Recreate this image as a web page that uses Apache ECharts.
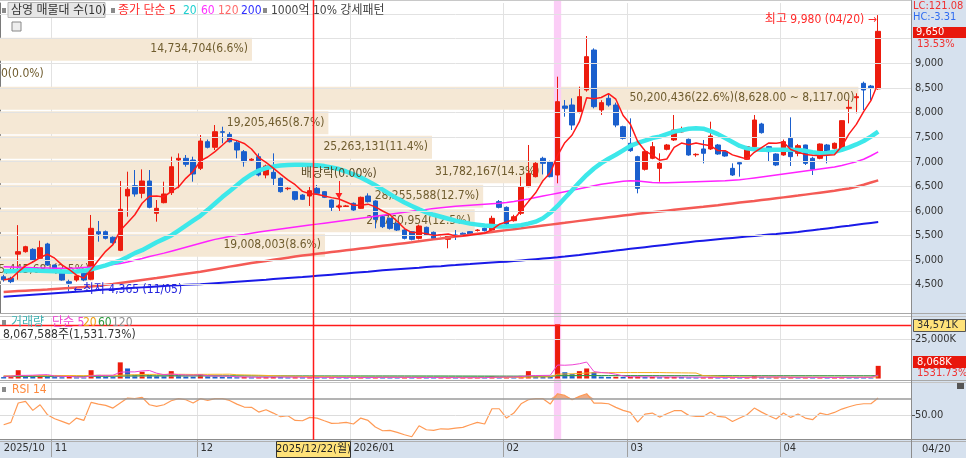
<!DOCTYPE html>
<html><head><meta charset="utf-8">
<script src="https://cdn.jsdelivr.net/npm/echarts@6/dist/echarts.min.js"></script>
<style>html,body{margin:0;padding:0;background:#fff;overflow:hidden}#c{width:966px;height:458px}</style>
</head><body><div id="c"></div>
<script>
// ---------- DATA ----------
const tradingDays = [
 ['2025/10',[23,24,27,28,29,30,31]],
 ['2025/11',[3,4,5,6,7,10,11,12,13,14,17,18,19,20,21,24,25,26,27,28]],
 ['2025/12',[1,2,3,4,5,8,9,10,11,12,15,16,17,18,19,22,23,24,26,29,30]],
 ['2026/01',[2,5,6,7,8,9,12,13,14,15,16,19,20,21,22,23,26,27,28,29,30]],
 ['2026/02',[2,3,4,5,6,9,10,11,12,13,19,20,23,24,25,26,27]],
 ['2026/03',[3,4,5,6,9,10,11,12,13,16,17,18,19,20,23,24,25,26,27,30,31]],
 ['2026/04',[1,2,3,6,7,8,9,10,13,14,15,16,17,20]]
];
const monthLabels = ['2025/10','11','12','2026/01','02','03','04'];
const priceTicks = [4500,5000,5500,6000,6500,7000,7500,8000,8500,9000];
const priceGridLines = [4500,5000,5500,6000,6500,7000,7500,8000,8500,9000,9500,10000];
const volTicks = [25000];
const rsiTicks = [50];

const opens = [4660,4629,5120,5170,5217,5035,5326,4899,4763,4560,
 4594,4730,4609,5576,5576,5462,5197,6302,6512,6357,
 6607,5950,6166,6370,7034,7068,7034,6865,7406,7292,
 7609,7555,7386,7203,7030,7101,6729,6783,6661,6450,
 6390,6322,6302,6458,6390,6220,6080,6090,6153,6051,
 6302,6200,5882,5848,5746,5610,5576,5441,5665,5563,
 5500,5421,5510,5545,5577,5600,5645,5610,6187,6071,
 5800,5950,6492,6695,7068,7000,6729,8132,8152,8017,
 8457,9270,8051,8288,8152,7711,7373,7102,6844,7068,
 6864,7251,7441,7604,7454,7140,7258,7258,7339,7204,
 6864,6980,7048,7305,7766,7305,7156,7136,7475,7170,
 7339,7068,7068,7339,7271,7238,8085,8300,8593,8538,
 8480];
const highs = [4700,4660,5710,5290,5240,5393,5350,4910,4780,4600,
 4700,4750,5916,5794,5600,5480,6607,6796,6830,6843,
 6830,6220,6593,7101,7168,7135,7101,7542,7450,7745,
 7711,7600,7440,7237,7070,7169,6940,7169,6680,6480,
 6400,6340,6492,6526,6400,6230,6130,6120,6170,6290,
 6356,6215,5900,5860,5760,5625,5590,5720,5680,5580,
 5530,5500,5610,5560,5590,5630,5660,5900,6220,6090,
 5920,6695,7339,6990,7100,7020,8728,8254,8288,8525,
 9555,9304,8250,8390,8200,7730,7881,7120,7250,7400,
 7170,7360,7949,7712,7470,7170,7441,7813,7360,7220,
 6966,6990,7320,7949,7790,7320,7170,7450,7901,7360,
 7345,7100,7370,7360,7390,7840,8254,8390,8627,8560,
 9980];
const lows = [4560,4530,4600,5150,4960,5020,4880,4750,4580,4365,
 4560,4570,4590,5373,5420,5330,5180,5881,6288,6255,
 6052,5780,6153,6322,6459,6898,6593,6830,7270,7237,
 7373,7390,7068,6898,7010,6700,6661,6525,6370,6420,
 6210,6220,6099,6322,6260,5983,6050,6080,6000,6040,
 6170,5644,5650,5620,5590,5420,5400,5420,5490,5420,
 5480,5238,5407,5500,5490,5580,5580,5600,6050,5712,
 5780,5915,6480,6680,6740,6680,6560,7915,7644,7983,
 8423,8084,7950,8118,7700,7450,7200,6356,6820,7050,
 6593,7230,7420,7590,7120,7100,6966,7238,7140,7100,
 6709,6695,7040,7290,7570,7000,6910,7120,6912,7110,
 6932,6729,7050,6966,7250,7210,7779,7983,8051,8254,
 8460];
const closes = [4600,4560,5170,5271,5001,5251,4899,4763,4594,4527,
 4676,4594,5645,5530,5442,5352,6032,6438,6343,6607,
 6072,6052,6343,6898,7068,6946,6749,7420,7292,7609,
 7597,7406,7237,6999,7050,6729,6912,6661,6390,6460,
 6234,6234,6410,6356,6275,6071,6100,6100,6017,6275,
 6187,5827,5678,5644,5610,5441,5421,5692,5509,5441,
 5510,5489,5500,5520,5509,5610,5597,5848,6071,5733,
 5880,6492,6763,6966,6966,6695,8220,8085,7745,8322,
 9135,8118,8200,8152,7745,7474,7224,6458,7204,7305,
 6966,7339,7644,7638,7136,7150,7170,7522,7156,7115,
 6729,6953,7305,7847,7590,7203,6932,7407,7102,7325,
 6966,6844,7359,7156,7373,7834,8105,8321,8457,8500,
 9650];
const ma5 = [4600,4620,4760,4880,4960,5051,5118,5037,4902,4807,
 4692,4631,4807,4994,5177,5313,5600,5759,5921,6154,
 6298,6302,6283,6394,6487,6661,6801,7016,7095,7203,
 7333,7465,7428,7370,7258,7084,6985,6870,6748,6630,
 6531,6396,6346,6339,6302,6269,6242,6180,6113,6113,
 6136,6081,5997,5922,5789,5640,5559,5562,5535,5501,
 5515,5528,5490,5492,5506,5526,5547,5617,5727,5772,
 5826,6005,6188,6367,6613,6776,7122,7386,7542,7813,
 8301,8281,8304,8385,8270,7938,7759,7411,7221,7133,
 7031,7054,7292,7378,7345,7381,7348,7323,7227,7223,
 7138,7095,7052,7190,7285,7380,7375,7396,7247,7194,
 7146,7129,7119,7130,7140,7313,7565,7758,8018,8240,
 8603];
const ma20 = [4770,
 4770,4780,4790,4790,4780,4775,4770,4765,4760,4765,
 4780,4810,4850,4890,4940,4990,5060,5140,5200,5280,
 5360,5430,5500,5600,5700,5800,5900,6020,6150,6280,
 6400,6520,6640,6740,6820,6870,6900,6920,6930,6935,
 6935,6932,6925,6910,6880,6850,6800,6740,6680,6600,
 6520,6430,6340,6250,6170,6100,6030,5970,5920,5880,
 5840,5800,5770,5740,5720,5700,5690,5680,5680,5690,
 5710,5740,5780,5850,5960,6100,6260,6420,6580,6730,
 6860,6970,7060,7140,7230,7320,7380,7430,7480,7510,
 7560,7610,7640,7670,7680,7670,7620,7560,7480,7400,
 7320,7270,7250,7240,7240,7240,7240,7240,7235,7220,
 7190,7170,7175,7200,7240,7290,7350,7420,7510,7610];
const ma60 = [4865,
 4860,4855,4850,4845,4840,4838,4835,4835,4835,4840,
 4850,4860,4875,4890,4910,4930,4960,4995,5030,5070,
 5105,5140,5180,5220,5260,5300,5340,5380,5420,5450,
 5480,5500,5520,5545,5570,5590,5610,5630,5650,5670,
 5690,5710,5730,5750,5770,5790,5810,5830,5850,5870,
 5890,5910,5930,5950,5970,5990,6010,6030,6050,6065,
 6080,6095,6105,6115,6125,6135,6145,6155,6170,6190,
 6215,6240,6270,6300,6330,6360,6390,6420,6450,6480,
 6510,6540,6560,6580,6600,6610,6605,6590,6575,6570,
 6570,6575,6580,6585,6590,6595,6600,6605,6610,6620,
 6630,6650,6670,6690,6710,6730,6750,6770,6790,6810,
 6830,6850,6870,6890,6920,6960,7000,7050,7120,7200];
const ma120 = [4352,
 4360,4368,4376,4384,4392,4400,4410,4420,4430,4440,
 4450,4462,4478,4496,4514,4534,4554,4574,4594,4614,
 4634,4656,4678,4700,4722,4742,4762,4788,4814,4840,
 4866,4890,4914,4938,4960,4982,5004,5026,5048,5070,
 5090,5108,5126,5144,5162,5180,5198,5216,5234,5252,
 5270,5288,5306,5324,5342,5360,5380,5400,5420,5440,
 5460,5478,5496,5514,5532,5550,5570,5590,5608,5626,
 5644,5664,5684,5702,5720,5738,5756,5776,5796,5814,
 5832,5850,5868,5886,5904,5922,5940,5956,5972,5988,
 6004,6020,6036,6052,6068,6082,6098,6114,6132,6150,
 6168,6186,6202,6220,6238,6256,6274,6292,6310,6330,
 6350,6370,6390,6410,6432,6456,6490,6530,6575,6620];
const ma200 = [4255,
 4265,4275,4285,4295,4305,4315,4325,4335,4345,4355,
 4365,4377,4390,4399,4408,4417,4426,4435,4444,4453,
 4462,4471,4480,4489,4498,4504,4510,4520,4530,4540,
 4550,4560,4570,4580,4590,4600,4612,4624,4636,4646,
 4655,4667,4679,4691,4703,4715,4727,4739,4751,4763,
 4778,4792,4804,4815,4825,4835,4845,4856,4866,4876,
 4887,4897,4908,4918,4929,4940,4950,4958,4965,4978,
 4991,5004,5017,5030,5043,5056,5070,5087,5104,5122,
 5140,5157,5175,5192,5210,5227,5244,5261,5278,5295,
 5312,5329,5346,5363,5380,5394,5408,5422,5436,5450,
 5463,5476,5490,5503,5517,5530,5544,5557,5570,5588,
 5606,5624,5643,5661,5680,5698,5717,5736,5755,5773];
// volume in thousand shares
const volumes = [900,
 900,5300,1800,1500,2100,1600,900,800,1000,700,
 600,5300,2300,1200,900,10300,6400,2300,4300,2200,
 1700,1500,4700,2100,1300,1200,2800,1400,1300,1000,
 900,800,900,700,800,900,1000,900,700,800,
 700,800,700,600,700,600,500,600,700,600,
 900,800,700,600,700,600,700,600,500,500,
 600,500,500,500,600,500,1600,900,900,700,
 1700,4700,1500,1200,1000,34571,4000,2800,4700,6400,
 4000,1200,1000,1100,1000,1100,1200,900,1000,800,
 900,1000,900,700,600,700,900,600,500,700,
 600,800,1700,900,700,800,600,900,700,700,
 600,700,500,600,1000,900,800,600,527,8068];
const volMa5 = [1400,
 1500,2000,2000,2100,2320,2460,1580,1380,1280,1000,
 800,1680,1980,2020,2060,4000,4220,4220,4840,5100,
 3380,2400,2880,2440,2260,2160,2420,1760,1600,1540,
 1480,1080,980,860,820,820,860,860,860,860,
 820,780,740,720,700,680,620,600,620,600,
 660,720,740,720,740,680,660,640,620,580,
 580,540,520,520,540,520,740,820,900,920,
 1160,1780,1900,1960,2020,8594,8454,8714,9414,10494,
 4380,3820,3460,2740,1660,1080,1080,1060,1040,1000,
 960,920,920,860,820,780,760,700,660,680,
 660,640,860,940,940,980,940,780,740,740,
 700,720,640,620,680,740,760,780,765,2179];
const volMa20 = [1700,
 1700,1900,1900,1900,1950,1950,1950,1900,1900,1850,
 1800,2000,2050,2050,2000,2055,2350,2400,2550,2600,
 2660,2600,2750,2700,2650,2585,2650,2650,2700,2700,
 2755,2400,2300,2200,2100,1960,1800,1650,1550,1450,
 1320,1200,1150,1050,1000,950,900,850,800,780,
 745,740,730,720,715,710,700,690,670,660,
 650,640,630,620,615,610,660,680,700,710,
 735,900,950,990,1015,2714,2900,3000,3200,3494,
 3650,3680,3720,3750,3774,3780,3790,3790,3790,3794,
 3700,3650,3600,3550,3494,1800,1650,1450,1200,1040,
 1000,950,920,890,860,850,830,820,800,795,
 790,780,770,765,760,780,790,790,780,1135];
const volMa60 = [1350,
 1350,1400,1400,1420,1440,1450,1450,1450,1450,1440,
 1430,1480,1500,1500,1500,1650,1700,1700,1720,1730,
 1730,1730,1750,1750,1740,1740,1750,1750,1740,1730,
 1720,1710,1700,1690,1680,1670,1660,1650,1640,1630,
 1620,1610,1600,1600,1600,1600,1600,1600,1600,1600,
 1600,1600,1600,1600,1600,1590,1590,1585,1582,1582,
 1570,1560,1550,1540,1530,1520,1510,1500,1490,1480,
 1470,1460,1450,1440,1423,1828,1840,1850,1860,1870,
 1860,1850,1840,1820,1800,1790,1780,1770,1760,1750,
 1745,1740,1740,1735,1730,1725,1720,1715,1710,1705,
 1700,1700,1700,1700,1700,1700,1700,1700,1700,1700,
 1700,1700,1700,1700,1700,1700,1700,1700,1690,1889];
const volMa120 = [1300,1310,1320,1330,1340,1350,1350,1350,1350,1350,1350,1380,1390,1390,1390,1450,1480,1490,1510,1520,
 1530,1530,1560,1570,1570,1570,1590,1590,1590,1590,1590,1590,1580,1580,1570,1570,1570,1570,1560,1560,
 1560,1550,1550,1540,1540,1530,1530,1520,1520,1510,1510,1500,1500,1490,1490,1480,1480,1470,1470,1460,
 1460,1450,1450,1440,1440,1430,1430,1440,1440,1440,1440,1450,1480,1480,1480,1480,1760,1780,1790,1820,
 1860,1870,1870,1870,1870,1870,1870,1870,1870,1870,1860,1860,1850,1850,1840,1840,1830,1830,1820,1820,
 1810,1810,1800,1800,1800,1790,1790,1780,1780,1770,1770,1760,1760,1750,1750,1740,1740,1740,1730,1730,1790];
const rsi14 = [38.5,41.4,65.1,67.1,56.1,63.0,50.8,45.9,42.6,39.3,
 46.7,43.8,65.9,63.8,62.2,58.9,65.1,71.2,70.4,72.0,
 63.0,61.0,63.0,67.9,70.4,69.1,65.1,70.4,68.3,70.4,
 70.4,68.3,63.8,60.2,59.8,54.0,56.9,52.8,48.3,49.6,
 43.8,43.4,47.5,46.7,43.4,40.2,40.6,41.4,39.4,46.7,
 43.8,35.7,31.2,31.6,29.2,26.3,23.9,37.3,32.4,31.6,
 33.6,33.2,34.5,35.3,38.5,41.4,39.4,58.1,58.1,46.7,
 52.8,64.2,69.1,70.4,70.4,63.8,76.5,74.4,69.1,73.2,
 76.5,65.1,65.1,64.2,59.8,56.1,53.6,41.8,51.6,52.8,
 47.9,52.0,55.7,55.7,50.0,48.7,48.7,54.0,48.7,47.9,
 42.6,46.7,50.8,58.9,54.0,49.6,45.5,52.8,47.5,51.6,
 46.7,44.7,52.8,50.8,53.6,57.7,60.6,63.0,64.2,64.2,
 71.2];
// volume profile (매물대), top band to bottom band
const profileBandEdges = [9540,9042,8544,8046,7548,7050,6552,6054,5556,5058,4560];
const profileVolumes = [14734704,0,50200436,19205465,25263131,31782167,28255588,27760954,19008003,5445681];
const profilePct = [6.6,0.0,22.6,8.7,11.4,14.3,12.7,12.5,8.6,2.5];
const profileMaxRange = '(8,628.00 ~ 8,117.00)';
const highlightIndex = 76;           // 2026/02/11
const crosshairDate = '2025/12/22(월)';

// ---------- BUILD ----------
const FONT = "'DejaVu Sans Condensed','Noto Sans CJK KR',sans-serif";
const UP = '#ec1c0e', DN = '#1a5fcd';
const dates = [];
tradingDays.forEach(([m, ds]) => ds.forEach(d => dates.push(m + '/' + String(d).padStart(2,'0'))));
const N = dates.length;
const cats = dates.concat(['','','','']);
const monthStart = []; let acc = 0;
tradingDays.forEach(([m, ds]) => { monthStart.push(acc); acc += ds.length; });
const splitSet = new Set(monthStart.slice(1));
const labelAt = {}; monthStart.forEach((s, n) => labelAt[s] = monthLabels[n]);
const isSplit = (idx) => splitSet.has(idx);

const ohlc = opens.map((o, j) => [o, closes[j], lows[j], highs[j]]);
const PLOT_W = 911;
const PX_PER_SHARE = 17.1 / 1e6;

const checks = {opens, highs, lows, closes, ma5, ma20, ma60, ma120, ma200, volumes, volMa5, volMa20, volMa60, volMa120, rsi14};
const bad = Object.entries(checks).filter(([k, a]) => a.length !== N).map(([k, a]) => k + ':' + a.length);

const profileData = profileVolumes.map((v, n) => [v, profileBandEdges[n], profileBandEdges[n+1], n]);
function fmtInt(v){ return Math.round(v).toLocaleString('en-US'); }

const maLine = (name, data, color, width, z) => ({
  name, type:'line', xAxisIndex:0, yAxisIndex:0, data, symbol:'none', showSymbol:false,
  lineStyle:{color, width}, itemStyle:{color}, z, silent:true
});
const volLine = (name, data, color) => ({
  name, type:'line', xAxisIndex:2, yAxisIndex:1, data, symbol:'none', showSymbol:false,
  lineStyle:{color, width:1}, z:4, silent:true
});

const txt = (x, y, text, color, size, align, extra) => Object.assign({
  type:'text', x, y, z:60, silent:true,
  style:{text, fill:color, font:(size||11)+'px '+FONT, align:align||'left', verticalAlign:'middle', textAlign:align||'left', textVerticalAlign:'middle'}
}, extra||{});
const rect = (x, y, w, h, fill, stroke, z) => ({type:'rect', shape:{x, y, width:w, height:h}, style:{fill, stroke:stroke||null, lineWidth:1}, z:(z===undefined?55:z), silent:true});
const hline = (x1, x2, y, color, z) => rect(x1, y - 0.5, x2 - x1, 1, color, null, (z===undefined?40:z));
const icon = (x, y) => rect(x, y, 4, 5, '#8a8a8a', null, 60);

const graphics = [
  rect(911, 0, 55, 458, '#d6e1ee', null, -10),
  rect(0, 440, 966, 18, '#d6e1ee', null, -10),
  rect(911, 0, 1, 458, '#8c8c8c', null, 41),
  hline(0, 911, 0.5, '#c8c8c8'),
  hline(0, 966, 313.5, '#a8a8a8'), hline(0, 966, 316.5, '#c4c4c4'),
  hline(0, 966, 380.5, '#a8a8a8'), hline(0, 966, 382.5, '#c4c4c4'),
  hline(0, 966, 439.5, '#8c8c8c'), hline(0, 966, 441.5, '#b0b0b0'),
  // crosshair
  rect(312.75, 0, 1.5, 440, '#ff1a1a', null, 50),
  rect(0, 324.75, 911, 1.5, '#ff1a1a', null, 50),
  // main legend
  icon(2, 8),
  rect(8, 2.5, 97, 15, '#e6e6e6', '#b4b4b4', 55),
  txt(11, 10.5, '삼영 매물대 수(10)', '#333', 12),
  icon(111, 8),
  txt(118, 10.5, '종가 단순 5', '#ff2a2a', 12),
  txt(183, 10.5, '20', '#1fd0d0', 12),
  txt(201, 10.5, '60', '#ff30ff', 12),
  txt(218, 10.5, '120', '#ff6a6a', 12),
  txt(241, 10.5, '200', '#3030ff', 12),
  icon(263, 8),
  txt(271, 10.5, '1000억 10% 강세패턴', '#444', 12),
  rect(12, 22, 9, 9, '#eeeeee', '#888', 55),
  // volume legend
  icon(2, 320),
  txt(11, 322.5, '거래량', '#3fb3b3', 12),
  txt(52, 322.5, '단순 5', '#ee44d4', 12),
  txt(83, 322.5, '20', '#f0a010', 12),
  txt(98, 322.5, '60', '#2c9a3c', 12),
  txt(112, 322.5, '120', '#909090', 12),
  txt(3, 335, '8,067,588주(1,531.73%)', '#333', 12),
  // rsi legend
  icon(2, 387),
  txt(12, 389.5, 'RSI 14', '#ff8a3d', 12),
  // right side badges
  txt(913, 6, 'LC:121.08', '#f03030', 11),
  txt(913, 17, 'HC:-3.31', '#2f6cf0', 11),
  rect(913, 27, 53, 11, '#e8170c', null, 55),
  txt(916, 32.5, '9,650', '#ffffff', 11),
  txt(917, 44, '13.53%', '#f03030', 11),
  rect(913.5, 319.5, 52, 12, '#ffe27a', '#555', 55),
  txt(917, 325.5, '34,571K', '#333', 11),
  rect(913, 356, 53, 12, '#e8170c', null, 55),
  txt(917, 362, '8,068K', '#ffffff', 11),
  txt(917, 373.5, '1531.73%', '#f03030', 11),
  rect(957, 383, 7, 6, '#555', null, 55),
  // bottom
  rect(276.5, 441.5, 74, 16, '#ffe27a', '#333', 55),
  txt(313.5, 449.5, crosshairDate, '#222', 11, 'center'),
  txt(922, 449.5, '04/20', '#333', 11)
];
if (bad.length) graphics.push(txt(300, 100, 'LEN ' + bad.join(' '), '#f00', 14));

const catAxis = (gi, extra) => Object.assign({
  type:'category', gridIndex:gi, data:cats, boundaryGap:true,
  axisLine:{show:false}, axisTick:{show:false}, axisLabel:{show:false},
  splitLine:{show:true, interval:isSplit, lineStyle:{color:'#e2e2e2', width:1}}
}, extra||{});

const option = {
  animation:false,
  textStyle:{fontFamily:FONT},
  grid:[
    {left:0, top:3, width:PLOT_W, height:310},
    {left:0, top:318, width:PLOT_W, height:60.5},
    {left:0, top:383, width:PLOT_W, height:56}
  ],
  xAxis:[
    catAxis(0),
    {type:'value', gridIndex:0, min:0, max:PLOT_W/PX_PER_SHARE, show:false},
    catAxis(1),
    catAxis(2, {
      axisLine:{show:true, lineStyle:{color:'#8c8c8c'}},
      axisTick:{show:true, interval:isSplit, length:18, lineStyle:{color:'#a0a0a0'}},
      axisLabel:{show:true, interval:(i)=>labelAt[i]!==undefined, formatter:(v,i)=>labelAt[i]||'',
        align:'left', margin:4, color:'#333', fontSize:11, fontFamily:FONT}
    })
  ],
  yAxis:[
    {type:'value', gridIndex:0, position:'right', min:3923, max:10226,
     axisLine:{show:true, lineStyle:{color:'#7a7a7a'}},
     axisTick:{show:true, customValues:priceTicks, length:4, lineStyle:{color:'#555'}},
     axisLabel:{customValues:priceTicks, formatter:(v)=>fmtInt(v), color:'#333', fontSize:11, fontFamily:FONT, margin:4},
     splitLine:{show:false}},
    {type:'value', gridIndex:1, position:'right', min:0, max:38600,
     axisLine:{show:true, lineStyle:{color:'#7a7a7a'}},
     axisTick:{show:true, customValues:volTicks, length:4, lineStyle:{color:'#555'}},
     axisLabel:{customValues:volTicks, formatter:(v)=>fmtInt(v)+'K', color:'#333', fontSize:11, fontFamily:FONT, margin:4},
     splitLine:{show:false}},
    {type:'value', gridIndex:2, position:'right', min:21.1, max:89.6,
     axisLine:{show:true, lineStyle:{color:'#7a7a7a'}},
     axisTick:{show:true, customValues:rsiTicks, length:4, lineStyle:{color:'#555'}},
     axisLabel:{customValues:rsiTicks, formatter:(v)=>v.toFixed(2), color:'#333', fontSize:11, fontFamily:FONT, margin:4},
     splitLine:{show:false}}
  ],
  graphic:{elements:graphics},
  series:[
    {type:'line', xAxisIndex:0, yAxisIndex:0, data:[], z:0, silent:true,
     markLine:{silent:true, symbol:['none','none'], label:{show:false}, animation:false,
       lineStyle:{color:'#e2e2e2', width:1, type:'solid'}, data:priceGridLines.map(v=>({yAxis:v}))}},
    {type:'custom', name:'매물대', xAxisIndex:1, yAxisIndex:0, data:profileData, z:1, silent:true, clip:false,
     renderItem:(params, api) => {
       const v = api.value(0), top = api.value(1), bot = api.value(2), n = api.value(3);
       const x0 = params.coordSys.x;
       const p0 = api.coord([0, top]), p1 = api.coord([v, bot]);
       let label = fmtInt(v) + '(' + profilePct[n].toFixed(1) + '%)';
       if (v === Math.max.apply(null, profileVolumes)) label += profileMaxRange;
       const children = [];
       if (v > 0) children.push({type:'rect', shape:{x:x0, y:p0[1]+1, width:p1[0]-x0, height:p1[1]-p0[1]-1.5}, style:{fill:'#f5e8d5'}});
       children.push({type:'text', style:{text:label, x: v>0 ? p1[0]-4 : x0+1, y:(p0[1]+p1[1])/2,
         align: v>0 ? 'right':'left', verticalAlign:'middle', textAlign: v>0?'right':'left', textVerticalAlign:'middle',
         fill:'#6f5c2e', font:'12px '+FONT}});
       return {type:'group', children};
     }},
    {type:'custom', xAxisIndex:0, yAxisIndex:0, data:[[highlightIndex, 5000]], z:2, silent:true, clip:false,
     renderItem:(params, api) => {
       const c = api.coord([api.value(0), api.value(1)]);
       const w = api.size([1, 0])[0];
       return {type:'rect', shape:{x:c[0]-w/2, y:0, width:w, height:440}, style:{fill:'#fbcdf6'}};
     }},
    {type:'candlestick', name:'price', xAxisIndex:0, yAxisIndex:0, data:ohlc, barWidth:5, z:3,
     itemStyle:{color:UP, color0:DN, borderColor:UP, borderColor0:DN, borderWidth:1},
     markPoint:{animation:false, data:[
       {coord:[N-1, 9980], symbol:'circle', symbolSize:1, itemStyle:{color:'rgba(0,0,0,0)'},
        label:{show:true, position:'left', distance:3, offset:[2,5], formatter:'최고 9,980 (04/20) →', color:'#ff2a2a', fontSize:12, fontFamily:FONT}},
       {coord:[9, 4365], symbol:'circle', symbolSize:1, itemStyle:{color:'rgba(0,0,0,0)'},
        label:{show:true, position:'right', distance:2, offset:[2,-1], formatter:'←최저 4,365 (11/05)', color:'#2222dd', fontSize:12, fontFamily:FONT}},
       {coord:[46, 6302], symbol:'triangle', symbolRotate:180, symbolSize:[7,6], itemStyle:{color:'#ff2020'},
        label:{show:true, position:'top', distance:13, formatter:'배당락(0.00%)', color:'#5a4a26', fontSize:12, fontFamily:FONT}}
     ]},
     markLine:{silent:true, symbol:['none','none'], label:{show:false}, animation:false,
       lineStyle:{color:'#ff2020', width:1, type:'solid'},
       data:[[{coord:[46, 6607]}, {coord:[46, 5997]}]]}
    },
    maLine('ma200', ma200, '#1a1ae8', 2, 4),
    maLine('ma120', ma120, '#f45a55', 2.5, 4),
    maLine('ma60', ma60, '#ff22ff', 1.5, 4),
    maLine('ma20', ma20, '#3de8ea', 4.5, 4),
    maLine('ma5', ma5, '#ff1a1a', 1.5, 5),
    {type:'bar', name:'volume', xAxisIndex:2, yAxisIndex:1, barWidth:5, z:3,
     data: volumes.map((v, j) => ({value:v, itemStyle:{color: (j>0 && v>=volumes[j-1]) ? UP : DN}})),
     markLine:{silent:true, symbol:['none','none'], label:{show:false}, animation:false,
       lineStyle:{color:'#e0e0e0', width:1, type:'solid'}, data:[{yAxis:25000}]}},
    volLine('v120', volMa120, '#a8a8a8'),
    volLine('v60', volMa60, '#2c9a3c'),
    volLine('v20', volMa20, '#f4b020'),
    volLine('v5', volMa5, '#ee44d4'),
    {type:'line', xAxisIndex:3, yAxisIndex:2, data: rsi14.map(v => Math.max(v, 70)), symbol:'none', z:3, silent:true,
     lineStyle:{width:0, opacity:0}, areaStyle:{origin:70, color:'#eba882', opacity:0.95},
     markLine:{silent:true, symbol:['none','none'], label:{show:false}, animation:false,
       data:[{yAxis:70, lineStyle:{color:'#9a9a9a', width:1.5, type:'solid'}}, {yAxis:50, lineStyle:{color:'#dcdcdc', width:1, type:'solid'}}]}},
    {type:'line', name:'rsi', xAxisIndex:3, yAxisIndex:2, data:rsi14, symbol:'none', z:4, silent:true,
     lineStyle:{color:'#ff9a55', width:1.2}}
  ]
};
const chart = echarts.init(document.getElementById('c'), null, {renderer:'canvas', width:966, height:458});
chart.setOption(option);
</script>
</body></html>
